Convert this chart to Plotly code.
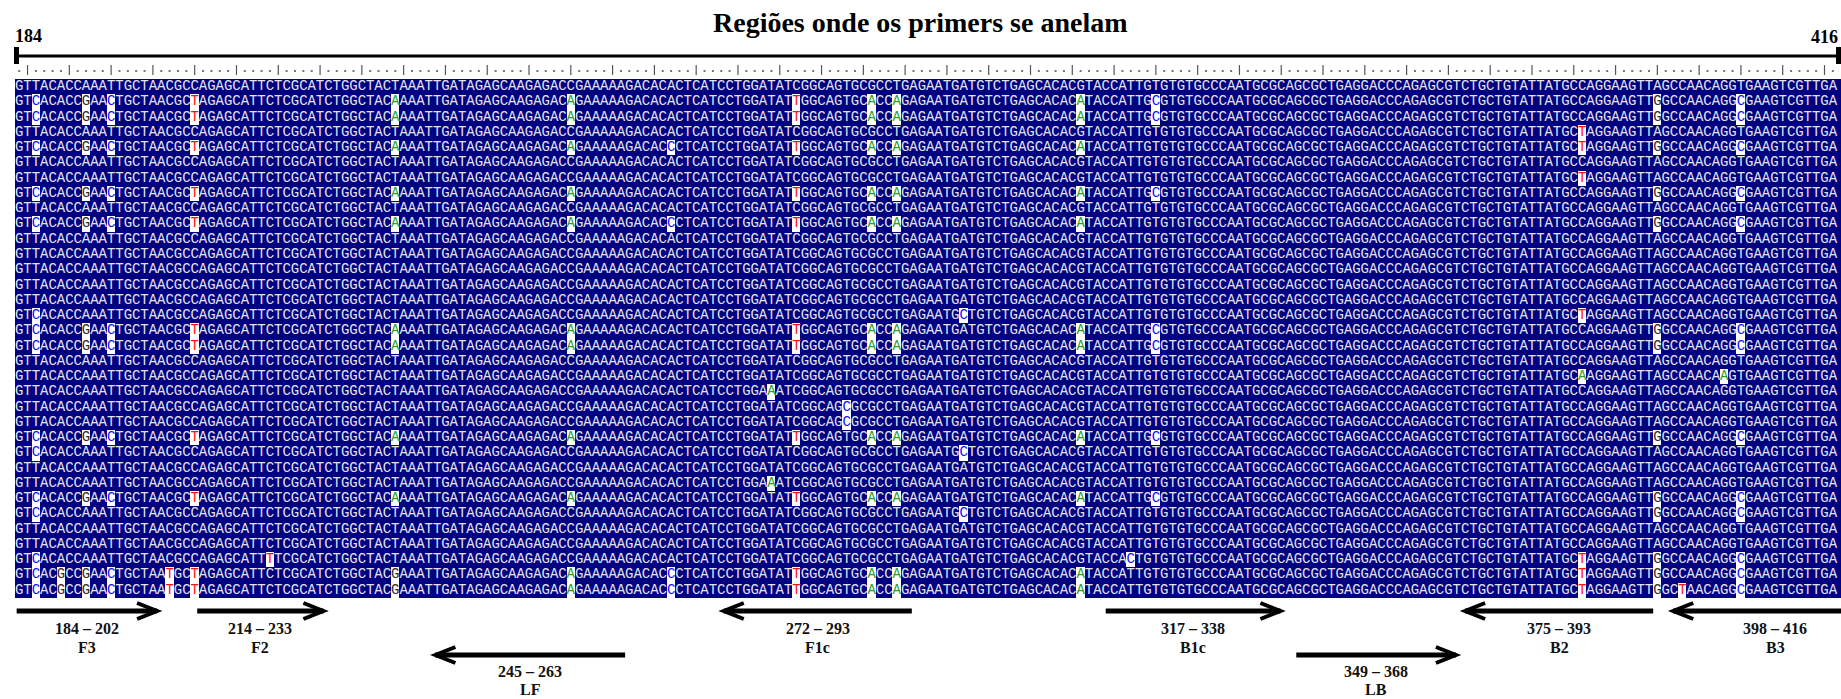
import plotly.graph_objects as go

# ---------------- data ----------------
consensus = ("GTTACACCAAATTGCTAACGCCAGAGCATTCTCGCATCTGGCTACTAAATTGATAGAGCAAGAGACCGAAAAAG"
             "ACACACTCATCCTGGATATCGGCAGTGCGCCTGAGAATGATGTCTGAGCACACGTACCATTGTGTGTGCCCAATG"
             "CGCAGCGCTGAGGACCCAGAGCGTCTGCTGTATTATGCCAGGAAGTTAGCCAACAGGTGAAGTCGTTGA")

pat_a = "2C 8G 11C 21T 45A 66A 93T 102A 105A 127A 136C 196G 206C"
pat_a2 = "2C 8G 11C 21T 45A 66A 78C 93T 102A 105A 127A 196G 206C"
pat_b = "2C 5G 8G 11C 18T 21T 45G 66A 78C 93T 102A 105A 127A 187T 196G 199T 206C"
pat_b2 = "2C 5G 8G 11C 18T 21T 45G 66A 78C 93T 102A 105A 127A 187T 196G 206C"

row_mutations = [
    "", pat_a, pat_a, "187T", pat_a2 + " 187T", "", "187T", pat_a, "", pat_a2,
    "", "", "", "", "", "2C 113C 187T", pat_a, pat_a, "", "187A 204A",
    "90A", "99C", "99C", pat_a, "2C 113C", "", "90A", pat_a, "2C 113C 196G 206C", "",
    "", "2C 30T 133C 187T 196G 206C", pat_b2, pat_b,
]

ruler_start, ruler_end = "184", "416"

primer_names = ["F3", "F2", "LF", "F1c", "B1c", "LB", "B2", "B3"]
primer_ranges = ["184 – 202", "214 – 233", "245 – 263", "272 – 293",
                 "317 – 338", "349 – 368", "375 – 393", "398 – 416"]
primer_col_start = [-0.3, 21.3, 49.8, 84.3, 130.0, 152.8, 173.0, 197.9]
primer_col_end = [16.5, 36.4, 72.5, 106.8, 150.9, 171.9, 195.5, 226.0]
primer_dir = [1, 1, -1, -1, 1, 1, -1, -1]
primer_level = [0, 0, 1, 0, 0, 1, 0, 0]

title_text = "Regiões onde os primers se anelam"

# ---------------- layout helpers ----------------
W, H = 1841, 699
CW = 8.358      # px per column
X0 = 15         # px left edge of column 0
RH = 15.26      # px per row
Y0 = 79         # px top edge of row 0


def px_x(p):
    return (p - X0) / CW - 0.5


def px_y(p):
    return (p - Y0) / RH - 0.5


base_colors = {"C": "#1010ff", "T": "#ff1010", "A": "#2aa02a", "G": "#3b2a12"}
cons_color = "#e4e4ee"
navy = "#000080"

ncol = len(consensus)
nrow = len(row_mutations)

z = []
tx, ty, tt, tc = [], [], [], []
for r, spec in enumerate(row_mutations):
    muts = {}
    for tok in spec.split():
        muts[int(tok[:-1])] = tok[-1]
    zrow = []
    for c in range(ncol):
        if c in muts:
            zrow.append(1)
            tx.append(c); ty.append(r); tt.append(muts[c]); tc.append(base_colors[muts[c]])
        else:
            zrow.append(0)
            tx.append(c); ty.append(r); tt.append(consensus[c]); tc.append(cons_color)
    zrow.append(0)  # block continues past the right edge of the window
    z.append(zrow)

fig = go.Figure()

fig.add_trace(go.Heatmap(
    z=z, x=list(range(ncol + 1)), y=list(range(nrow)),
    colorscale=[[0, navy], [1, "#ffffff"]], zmin=0, zmax=1,
    showscale=False, hoverinfo="skip"))

fig.add_trace(go.Scatter(
    x=tx, y=ty, text=tt, mode="text",
    textfont=dict(family="Liberation Mono, Courier New, monospace", size=14, color=tc),
    textposition="middle center", hoverinfo="skip", showlegend=False))

# dotted ruler
cols = list(range(ncol))
bar_cols = [c for c in cols if c % 5 == 1]
dot_cols = [c for c in cols if c % 5 != 1]
ry = px_y(71)
fig.add_trace(go.Scatter(x=dot_cols, y=[ry] * len(dot_cols), mode="markers",
                         marker=dict(symbol="square", size=2, color="#777"),
                         hoverinfo="skip", showlegend=False))
fig.add_trace(go.Scatter(x=bar_cols, y=[px_y(70)] * len(bar_cols), mode="markers",
                         marker=dict(symbol="line-ns", size=7, line=dict(width=1.2, color="#555")),
                         hoverinfo="skip", showlegend=False))

shapes = []
# top ruler line with end bars
ly = px_y(56)
shapes.append(dict(type="line", xref="x", yref="y", x0=px_x(16), x1=px_x(1838), y0=ly, y1=ly,
                   line=dict(color="black", width=3)))
for bx in (px_x(16.5), px_x(1838.5)):
    shapes.append(dict(type="line", xref="x", yref="y", x0=bx, x1=bx, y0=px_y(47), y1=px_y(64),
                       line=dict(color="black", width=5)))

# primer arrows
arrow_y_px = [611, 655]
head_dx = 20 / CW
head_dy = 8 / RH
for s, e, d, lv in zip(primer_col_start, primer_col_end, primer_dir, primer_level):
    yy = px_y(arrow_y_px[lv])
    shapes.append(dict(type="line", xref="x", yref="y", x0=s, x1=e, y0=yy, y1=yy,
                       line=dict(color="black", width=5)))
    tip = e if d > 0 else s
    back = tip - d * head_dx
    shapes.append(dict(type="path", xref="x", yref="y",
                       path=f"M {back},{yy - head_dy} L {tip},{yy} L {back},{yy + head_dy}",
                       line=dict(color="black", width=4)))

annotations = []
annotations.append(dict(text=title_text, x=0.5, xref="paper", y=px_y(22), yref="y",
                        showarrow=False, xanchor="center", yanchor="middle",
                        font=dict(family="Liberation Serif, Times New Roman, serif", size=28,
                                  color="black", weight="bold")))
annotations.append(dict(text=ruler_start, x=px_x(13), y=px_y(36), xref="x", yref="y",
                        showarrow=False, xanchor="left", yanchor="middle",
                        font=dict(family="Liberation Serif, serif", size=18, color="black", weight="bold")))
annotations.append(dict(text=ruler_end, x=px_x(1840), y=px_y(37), xref="x", yref="y",
                        showarrow=False, xanchor="right", yanchor="middle",
                        font=dict(family="Liberation Serif, serif", size=18, color="black", weight="bold")))

label_y_px = [(628, 647), (671, 689)]
for s, e, d, lv, nm, rg in zip(primer_col_start, primer_col_end, primer_dir, primer_level,
                                primer_names, primer_ranges):
    cx = (s + min(e, px_x(1841))) / 2
    if nm == "B3":
        cx = px_x(1775)
    y1, y2 = label_y_px[lv]
    for txt, yp in ((rg, y1), (nm, y2)):
        annotations.append(dict(text=txt, x=cx, y=px_y(yp), xref="x", yref="y", showarrow=False,
                                xanchor="center", yanchor="middle",
                                font=dict(family="Liberation Serif, serif", size=16,
                                          color="#111", weight="bold")))

fig.update_layout(
    width=W, height=H, margin=dict(l=0, r=0, t=0, b=0),
    paper_bgcolor="white", plot_bgcolor="white",
    xaxis=dict(range=[px_x(0), px_x(W)], visible=False, fixedrange=True),
    yaxis=dict(range=[px_y(H), px_y(0)], visible=False, fixedrange=True),
    shapes=shapes, annotations=annotations, showlegend=False,
)

fig.write_html("out.html")
